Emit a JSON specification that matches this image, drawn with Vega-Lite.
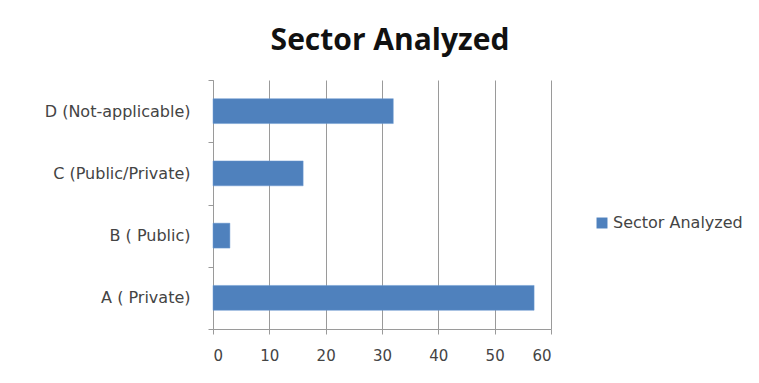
{
  "$schema": "https://vega.github.io/schema/vega-lite/v6.json",
  "autosize": {"type": "none"},
  "width": 338,
  "height": 249,
  "padding": {"left": 213, "top": 80, "right": 208, "bottom": 54},
  "background": "white",
  "title": {
    "text": "Sector Analyzed",
    "font": "Open Sans",
    "fontSize": 30,
    "fontWeight": "bold",
    "color": "#111111",
    "anchor": "middle",
    "offset": 16,
    "dx": 8
  },
  "data": {
    "values": [
      {"category": "A ( Private)", "value": 57, "series": "Sector Analyzed"},
      {"category": "B ( Public)", "value": 3, "series": "Sector Analyzed"},
      {"category": "C (Public/Private)", "value": 16, "series": "Sector Analyzed"},
      {"category": "D (Not-applicable)", "value": 32, "series": "Sector Analyzed"}
    ]
  },
  "mark": {"type": "bar", "height": {"band": 0.4}, "stroke": "#6C9BD2", "strokeWidth": 0.5},
  "encoding": {
    "y": {
      "field": "category",
      "type": "nominal",
      "sort": ["D (Not-applicable)", "C (Public/Private)", "B ( Public)", "A ( Private)"],
      "scale": {"paddingInner": 0, "paddingOuter": 0},
      "axis": {
        "title": null,
        "tickBand": "extent",
        "domainColor": "#9a9a9a",
        "tickColor": "#9a9a9a",
        "tickSize": 5,
        "labelFont": "DejaVu Sans",
        "labelFontSize": 16,
        "labelColor": "#444444",
        "labelPadding": 18,
        "grid": false
      }
    },
    "x": {
      "field": "value",
      "type": "quantitative",
      "scale": {"domain": [0, 60], "nice": false},
      "axis": {
        "title": null,
        "values": [0, 10, 20, 30, 40, 50, 60],
        "grid": true,
        "gridColor": "#9a9a9a",
        "domainColor": "#9a9a9a",
        "tickColor": "#9a9a9a",
        "tickSize": 5,
        "labelFont": "DejaVu Sans",
        "labelFontSize": 15,
        "labelColor": "#444444",
        "labelPadding": 14
      }
    },
    "color": {
      "field": "series",
      "type": "nominal",
      "scale": {"range": ["#4F81BD"]},
      "legend": {
        "title": null,
        "orient": "none",
        "legendX": 381,
        "legendY": 135,
        "symbolType": "square",
        "symbolSize": 120,
        "symbolStrokeWidth": 0,
        "labelFont": "DejaVu Sans",
        "labelFontSize": 16,
        "labelColor": "#444444",
        "labelOffset": 3
      }
    }
  },
  "config": {
    "view": {"stroke": null}
  }
}
